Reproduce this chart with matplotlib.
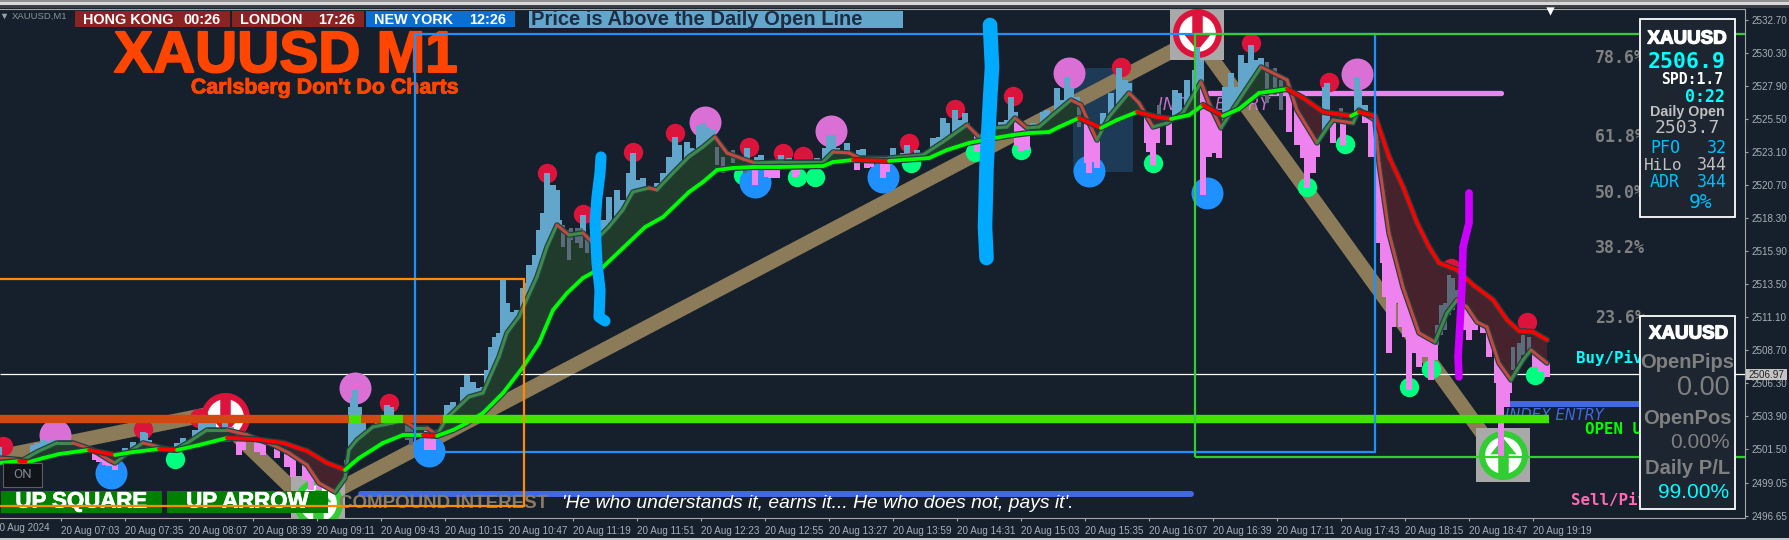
import numpy as np
import matplotlib
matplotlib.use("Agg")
import matplotlib.pyplot as plt
from matplotlib.collections import LineCollection
from matplotlib.patches import Rectangle
from matplotlib.path import Path
import matplotlib.patheffects as pe

# time axis: minutes after 06:30 on 20 Aug 2024; values: XAUUSD price
TICK_T = [33 + 32 * i for i in range(24)]
TICK_LABELS = ["20 Aug 07:03", "20 Aug 07:35", "20 Aug 08:07", "20 Aug 08:39", "20 Aug 09:11", "20 Aug 09:43",
               "20 Aug 10:15", "20 Aug 10:47", "20 Aug 11:19", "20 Aug 11:51", "20 Aug 12:23", "20 Aug 12:55",
               "20 Aug 13:27", "20 Aug 13:59", "20 Aug 14:31", "20 Aug 15:03", "20 Aug 15:35", "20 Aug 16:07",
               "20 Aug 16:39", "20 Aug 17:11", "20 Aug 17:43", "20 Aug 18:15", "20 Aug 18:47", "20 Aug 19:19"]
PRICE_TICKS = [2532.70, 2530.30, 2527.90, 2525.50, 2523.10, 2520.70, 2518.30, 2515.90, 2513.50,
               2511.10, 2508.70, 2506.30, 2503.90, 2501.50, 2499.05, 2496.65]

SLOW_T = [2, 12, 17, 24, 32, 47, 60, 69, 82, 91, 102, 116, 129, 144, 156, 166, 175, 179, 182, 194, 204, 214, 221, 229,
          236, 244, 254, 264, 272, 279, 286, 294, 304, 314, 325, 334, 347, 354, 361, 369, 379, 392, 414, 419, 429, 447,
          467, 476, 487, 497, 509, 517, 527, 532, 542, 553, 561, 571, 581, 588, 597, 604, 614, 622, 632, 646, 654, 664,
          678, 682, 690, 697, 704, 711, 717, 722, 731, 739, 749, 756, 762, 769, 776]
SLOW_P = [2500.48, 2500.62, 2500.55, 2500.84, 2501.13, 2501.43, 2501.06, 2501.28, 2501.50, 2501.43, 2501.79, 2502.30,
          2502.23, 2501.94, 2501.35, 2500.48, 2499.97, 2500.48, 2500.84, 2501.94, 2502.52, 2502.52, 2502.45, 2502.88,
          2503.39, 2504.12, 2505.57, 2507.46, 2509.21, 2511.61, 2512.84, 2513.94, 2514.74, 2516.12, 2517.64, 2518.37,
          2520.19, 2520.92, 2521.79, 2521.94, 2522.01, 2522.01, 2522.08, 2522.37, 2522.52, 2522.45, 2522.66, 2523.25,
          2523.76, 2524.05, 2524.34, 2524.48, 2524.55, 2524.92, 2525.57, 2524.85, 2525.43, 2526.01, 2525.65, 2525.50,
          2525.79, 2526.52, 2525.72, 2526.23, 2527.39, 2527.68, 2527.03, 2526.01, 2525.72, 2526.01, 2525.72, 2522.74,
          2520.55, 2517.94, 2516.19, 2515.03, 2514.52, 2513.43, 2512.34, 2510.88, 2510.08, 2510.01, 2509.43]

FAST_T = [2, 9, 14, 21, 31, 39, 49, 57, 60, 67, 74, 84, 90, 97, 106, 116, 126, 139, 147, 156, 162, 170, 175, 177, 181,
          189, 199, 204, 210, 216, 221, 226, 237, 244, 252, 256, 262, 271, 276, 281, 287, 294, 299, 307, 314, 319, 327,
          331, 339, 347, 354, 360, 366, 374, 380, 394, 414, 419, 427, 432, 447, 464, 474, 486, 492, 500, 506, 510, 516,
          522, 529, 538, 543, 547, 551, 557, 567, 572, 579, 586, 594, 603, 607, 613, 621, 633, 646, 651, 661, 666, 669,
          679, 682, 690, 692, 697, 704, 712, 720, 726, 731, 736, 741, 746, 752, 758, 764, 768, 776]
FAST_P = [2500.84, 2500.77, 2500.70, 2501.28, 2501.94, 2501.94, 2501.43, 2500.70, 2500.48, 2501.28, 2501.94, 2501.57,
          2501.43, 2502.01, 2502.88, 2502.88, 2502.52, 2501.79, 2501.21, 2500.34, 2499.03, 2498.37, 2499.39, 2501.43,
          2502.15, 2503.10, 2503.39, 2503.61, 2503.03, 2503.03, 2502.52, 2503.75, 2505.28, 2505.57, 2508.19, 2509.94,
          2511.10, 2514.01, 2516.19, 2517.79, 2517.06, 2517.21, 2516.48, 2517.64, 2518.88, 2520.19, 2520.48, 2520.34,
          2521.57, 2522.74, 2523.46, 2524.19, 2523.03, 2522.59, 2522.30, 2522.37, 2522.37, 2523.10, 2523.03, 2522.66,
          2522.66, 2522.88, 2523.83, 2525.06, 2524.19, 2524.85, 2524.92, 2525.57, 2524.85, 2524.92, 2525.79, 2526.88,
          2526.52, 2525.21, 2523.97, 2525.65, 2527.39, 2526.66, 2524.92, 2525.21, 2525.94, 2528.19, 2526.66, 2524.85,
          2526.66, 2529.28, 2528.34, 2526.15, 2523.76, 2524.85, 2525.43, 2525.21, 2526.15, 2525.43, 2522.30, 2517.21,
          2513.28, 2509.94, 2509.28, 2511.39, 2512.34, 2511.83, 2510.74, 2510.37, 2507.75, 2506.52, 2507.97, 2508.70,
          2507.75]

UP_T = [2, 19, 21, 24, 26, 29, 33, 65, 69, 74, 75, 77, 91, 94, 96, 100, 103, 106, 109, 115, 118, 176, 178, 179, 180, 182,
        184, 196, 198, 200, 224, 226, 229, 233, 234, 236, 238, 239, 242, 244, 246, 248, 250, 252, 254, 256, 259, 261,
        264, 266, 267, 270, 272, 274, 276, 279, 281, 282, 294, 304, 307, 311, 314, 317, 319, 321, 324, 327, 331, 334,
        337, 340, 342, 346, 348, 351, 352, 354, 356, 359, 376, 381, 383, 393, 397, 411, 415, 417, 419, 421, 426, 432,
        434, 449, 454, 456, 461, 469, 472, 474, 476, 480, 482, 485, 486, 503, 506, 508, 510, 519, 524, 526, 531, 534,
        536, 538, 541, 554, 558, 562, 565, 567, 590, 592, 596, 600, 601, 603, 615, 618, 621, 623, 626, 628, 631, 633,
        665, 666, 681, 682, 685]
UP_HIGH = [2501.64, 2501.79, 2501.94, 2502.15, 2502.01, 2502.15, 2502.01, 2501.57, 2502.01, 2502.73, 2502.66, 2502.15,
           2501.94, 2502.30, 2502.01, 2502.88, 2503.39, 2503.46, 2503.39, 2503.75, 2503.10, 2500.70, 2504.55, 2505.28,
           2505.79, 2504.55, 2503.39, 2504.70, 2504.55, 2503.46, 2503.82, 2504.70, 2504.92, 2504.70, 2506.01, 2506.88,
           2506.01, 2506.37, 2505.94, 2506.01, 2507.24, 2508.92, 2509.65, 2509.94, 2513.79, 2512.12, 2511.46, 2511.61,
           2513.21, 2513.57, 2514.88, 2515.61, 2517.43, 2518.66, 2521.57, 2520.70, 2520.34, 2518.16, 2518.52, 2518.16,
           2519.83, 2520.34, 2519.61, 2521.57, 2523.03, 2521.06, 2521.21, 2520.55, 2520.85, 2521.57, 2522.74, 2524.19,
           2523.61, 2523.83, 2523.39, 2523.24, 2525.06, 2525.21, 2524.92, 2524.70, 2523.39, 2522.74, 2522.88, 2522.88,
           2522.66, 2522.66, 2523.39, 2524.34, 2524.34, 2523.39, 2523.76, 2523.24, 2523.32, 2523.39, 2523.03, 2523.61,
           2523.24, 2524.12, 2524.19, 2525.57, 2525.21, 2526.15, 2525.43, 2525.94, 2525.21, 2525.28, 2525.43, 2527.10,
           2526.01, 2525.21, 2526.01, 2526.15, 2527.75, 2526.88, 2528.55, 2527.75, 2527.10, 2525.94, 2527.39, 2529.21,
           2528.34, 2528.12, 2527.61, 2527.39, 2528.34, 2529.06, 2530.74, 2529.79, 2527.83, 2528.85, 2527.83, 2530.15,
           2529.57, 2530.88, 2529.79, 2529.94, 2527.83, 2528.12, 2528.55, 2527.61, 2526.52]

DOWN_T = [50, 52, 55, 57, 60, 122, 124, 131, 134, 141, 146, 149, 155, 158, 162, 216, 219, 380, 386, 388, 391, 400, 401,
          431, 436, 438, 444, 446, 491, 511, 513, 515, 516, 546, 547, 549, 551, 576, 577, 579, 581, 587, 604, 607, 610,
          612, 647, 651, 654, 656, 659, 661, 669, 674, 685, 688, 691, 692, 694, 695, 697, 699, 701, 703, 705, 707, 710,
          712, 715, 718, 720, 735, 737, 740, 744, 747, 751, 752, 753, 756, 757, 770, 773, 776]
DOWN_LOW = [2500.70, 2500.55, 2500.34, 2500.26, 2499.97, 2501.06, 2501.43, 2501.28, 2501.06, 2500.84, 2500.19, 2499.46,
            2499.24, 2498.52, 2498.52, 2501.43, 2501.43, 2520.70, 2521.28, 2521.21, 2521.21, 2521.28, 2521.43, 2521.79,
            2521.94, 2522.01, 2521.21, 2521.65, 2523.10, 2523.61, 2523.17, 2523.24, 2523.24, 2522.30, 2521.57, 2522.37,
            2521.94, 2523.76, 2523.10, 2522.15, 2523.76, 2523.61, 2519.97, 2522.74, 2523.03, 2522.66, 2524.54, 2523.61,
            2522.66, 2520.48, 2521.57, 2522.74, 2523.76, 2523.61, 2525.21, 2522.74, 2520.12, 2516.48, 2515.03, 2512.55,
            2508.48, 2510.37, 2512.12, 2510.37, 2509.65, 2505.79, 2508.48, 2507.46, 2508.19, 2506.52, 2507.97, 2510.15,
            2509.43, 2510.15, 2509.94, 2508.19, 2506.30, 2503.82, 2500.92, 2504.55, 2505.57, 2507.46, 2507.10, 2506.74]

MID_T = [206, 208, 284, 287, 288, 291, 293, 296, 361, 364, 369, 375, 542, 582, 636, 640, 643, 673, 721, 723, 725, 727,
         729, 731, 759, 762, 764, 767]
MID_HIGH = [2503.61, 2503.24, 2517.79, 2517.43, 2517.57, 2517.57, 2517.57, 2516.92, 2523.46, 2522.74, 2523.24, 2522.15,
            2526.37, 2526.52, 2529.65, 2529.21, 2528.34, 2526.30, 2510.52, 2511.97, 2512.12, 2514.15, 2513.94, 2513.06,
            2508.92, 2509.21, 2509.79, 2509.64]
MID_LOW = [2502.15, 2501.79, 2516.19, 2515.25, 2516.70, 2516.48, 2516.12, 2515.75, 2522.15, 2521.57, 2522.30, 2521.57,
           2524.92, 2525.79, 2526.66, 2527.25, 2526.15, 2525.57, 2509.06, 2509.79, 2510.15, 2511.24, 2511.61, 2512.19,
           2507.25, 2507.61, 2508.33, 2508.70]

RED_T = [4, 74, 102, 197, 276, 294, 319, 340, 377, 394, 404, 457, 480, 509, 563, 628, 667, 728, 715, 766]
RED_P = [2501.72, 2502.95, 2503.75, 2504.84, 2521.57, 2518.59, 2523.10, 2524.48, 2523.46, 2523.03, 2522.81, 2523.76,
         2526.22, 2527.17, 2529.28, 2531.03, 2528.19, 2514.66, 2510.74, 2510.74]
GREEN_T = [90, 193, 287, 297, 328, 349, 374, 401, 410, 458, 490, 513, 579, 656, 675, 707, 718, 770]
GREEN_P = [2500.77, 2502.88, 2515.10, 2514.95, 2519.39, 2522.66, 2521.42, 2521.28, 2521.28, 2522.30, 2523.10, 2523.24,
           2522.30, 2520.55, 2523.68, 2506.01, 2507.32, 2506.88]
BLUE_T = [58, 217, 380, 444, 547, 606]
BLUE_P = [2499.75, 2501.35, 2520.92, 2521.28, 2521.72, 2520.12]
ORCHID_T = [30, 180, 355, 418, 537, 681]
ORCHID_P = [2502.52, 2505.93, 2525.28, 2524.63, 2528.85, 2528.77]

ZIGZAG_T = [-1, 109.5, 157, 601, 754]
ZIGZAG_P = [2500.84, 2504.11, 2497.43, 2531.39, 2500.55]

STROKE1_T = [303, 302.5, 301, 300, 301, 302.5, 302, 305]
STROKE1_P = [2522.74, 2521.57, 2519.83, 2517.94, 2515.03, 2513.06, 2511.10, 2510.81]
STROKE2_T = [497.5, 498.5, 497.5, 495.75, 495, 495.75]
STROKE2_P = [2532.34, 2529.28, 2526.88, 2522.01, 2517.65, 2515.39]
STROKE3_T = [737, 737, 734, 733.5, 732.5, 731.5, 732]
STROKE3_P = [2520.12, 2517.94, 2516.19, 2513.28, 2510.66, 2508.19, 2506.74]

BID = 2506.97
DAILY_OPEN = 2503.7
OPEN_BELOW_SPANS = [(2, 177), (183, 193), (204, 224)]
OPEN_ABOVE_SPANS = [(177, 183), (193, 204), (224, 777)]
FIB_LABELS = ["78.6%", "61.8%", "50.0%", "38.2%", "23.6%"]
FIB_PRICES = [2529.94, 2524.19, 2520.12, 2516.12, 2511.03]

BG = "#15202c"
X_MIN, X_MAX, Y_MIN, Y_MAX = 2.5, 875.0, 2496.48, 2533.50

fig = plt.figure(figsize=(17.9, 5.4), dpi=100, facecolor=BG)
ov = fig.add_axes([0, 0, 1, 1], zorder=5)
ov.set_xlim(0, 1790)
ov.set_ylim(540, 0)
ov.axis("off")
ov.patch.set_alpha(0)
ax = fig.add_axes([0, 22 / 540, 1745 / 1790, 509 / 540], zorder=1, facecolor=BG)
ax.set_xlim(X_MIN, X_MAX)
ax.set_ylim(Y_MIN, Y_MAX)
PX = ov.transData

ax.spines["left"].set_visible(False)
for s in ("top", "right", "bottom"):
    ax.spines[s].set_color("#a5a5a5")
    ax.spines[s].set_linewidth(0.8)
ax.yaxis.tick_right()
ax.set_xticks(TICK_T)
ax.set_xticklabels(TICK_LABELS, ha="left", family="Liberation Sans", fontsize=7.1, color="#a9b0b6")
ax.set_yticks(PRICE_TICKS)
ax.set_yticklabels([f"{v:.2f}" for v in PRICE_TICKS], family="Liberation Sans", fontsize=7.1, color="#a9b0b6")
ax.tick_params(axis="x", length=2.5, width=0.8, color="#a5a5a5", pad=3.5)
ax.tick_params(axis="y", length=2.5, width=0.8, color="#a5a5a5", pad=2.5)

# top window strip
ov.add_patch(Rectangle((0, 0), 1790, 2, color="#8f8f8f", lw=0))
ov.add_patch(Rectangle((0, 2), 1790, 3, color="#d8d8d8", lw=0))
ov.add_patch(Rectangle((0, 5), 1790, 3, color="#3a3f45", lw=0))
ov.add_patch(Rectangle((0, 538), 1790, 2, color="#c8c8c8", lw=0))

# background drawing objects
ax.add_patch(Rectangle((539, 2521.65), 30, 7.55, color="#1d3a57", lw=0, zorder=1))
ax.plot(ZIGZAG_T, ZIGZAG_P, color="#8c7b58", lw=10.5, solid_joinstyle="miter", solid_capstyle="butt", zorder=1.5)
ax.plot([607, 753], [2527.4, 2527.4], color="#ee82ee", lw=3.8, solid_capstyle="round", zorder=1.6)
ax.hlines(BID, X_MIN, X_MAX, color="#ffffff", lw=0.9, zorder=1.7)
ax.text(1158, 105, "INDEX ENTRY", transform=PX, color="#ee82ee", style="italic", family="DejaVu Sans", fontsize=12,
        va="center", alpha=0.8, zorder=1.7)
ax.text(1505, 416, "INDEX ENTRY", transform=PX, color="#4169e1", style="italic", family="DejaVu Sans", fontsize=10.5,
        va="center", zorder=1.7)
ax.plot([183, 598], [2498.2, 2498.2], color="#4169e1", lw=4.3, solid_capstyle="round", zorder=2)
ax.plot([757.5, 825], [2504.75, 2504.75], color="#4169e1", lw=4.3, solid_capstyle="butt", zorder=2)

# icons: grey tile, ring, disc, arrow
ARROW_UP = Path([(-.22, -1), (.22, -1), (.22, .05), (.55, .05), (0, .72), (-.55, .05), (-.22, .05), (-.22, -1)], closed=True)
ARROW_DN = Path([(-x, -y) for x, y in ARROW_UP.vertices], closed=True)
for t, p, col, tile, arrow in [(754, 2501.06, "#32cd32", True, ARROW_UP), (601, 2531.75, "#dc143c", True, ARROW_DN),
                               (115, 2503.82, "#dc143c", False, ARROW_DN), (161.5, 2497.57, "#32cd32", True, ARROW_UP)]:
    if tile:
        ax.scatter([t], [p], marker="s", s=1568, color="#a9a9a9", lw=0, zorder=2.5)
    ax.scatter([t], [p], marker="o", s=1245, color=col, lw=0, zorder=2.6)
    ax.scatter([t], [p], marker="o", s=700, color="#ffffff", lw=0, zorder=2.7)
    ax.scatter([t], [p], marker=arrow, s=1180, color=col, lw=0, zorder=2.8)

# swing dots
ax.scatter(RED_T, RED_P, s=195, color="#dc143c", lw=0, zorder=3)
ax.scatter(GREEN_T, GREEN_P, s=195, color="#00ff7f", lw=0, zorder=3)
ax.scatter(BLUE_T, BLUE_P, s=530, color="#1e90ff", lw=0, zorder=3)
ax.scatter(ORCHID_T, ORCHID_P, s=530, color="#da70d6", lw=0, zorder=3)

# cloud between moving averages
grid = np.arange(SLOW_T[0], SLOW_T[-1] + 0.5, 0.5)
fast_g = np.interp(grid, FAST_T, FAST_P)
slow_g = np.interp(grid, SLOW_T, SLOW_P)
ax.fill_between(grid, fast_g, slow_g, where=fast_g >= slow_g, color="#203a2b", lw=0, zorder=3.5, interpolate=True)
ax.fill_between(grid, fast_g, slow_g, where=fast_g <= slow_g, color="#45222c", lw=0, zorder=3.5, interpolate=True)

# price bars
up_low = np.interp(UP_T, FAST_T, FAST_P)
down_high = np.interp(DOWN_T, FAST_T, FAST_P)
ax.bar(UP_T, np.array(UP_HIGH) - up_low, bottom=up_low, width=2.6, color="#62a7cb", lw=0, zorder=4, antialiased=False)
ax.bar(DOWN_T, np.array(DOWN_LOW) - down_high, bottom=down_high, width=2.6, color="#ee82ee", lw=0, zorder=4,
       antialiased=False)
ax.bar(MID_T, np.array(MID_HIGH) - np.array(MID_LOW), bottom=MID_LOW, width=2.4, color="#5c6b79", lw=0, zorder=4,
       antialiased=False)


def coloured(ts, ps, up, down, lw, z):
    ax.plot(ts, ps, color="#24403f", lw=lw + 1.8, solid_capstyle="round", zorder=z - 0.1)
    pts = np.column_stack([ts, ps])
    segs = np.stack([pts[:-1], pts[1:]], axis=1)
    cols = [up if b >= a else down for a, b in zip(ps[:-1], ps[1:])]
    ax.add_collection(LineCollection(segs, colors=cols, linewidths=lw, zorder=z, capstyle="round"))


coloured(FAST_T, FAST_P, "#3d8a4b", "#c4483f", 2.2, 5)
coloured(SLOW_T, SLOW_P, "#00ff00", "#ff0000", 2.7, 5.2)

# daily open band, rectangles
for a, b in OPEN_BELOW_SPANS:
    ax.plot([a, b], [DAILY_OPEN, DAILY_OPEN], color="#d3480f", lw=6, solid_capstyle="butt", zorder=9)
for a, b in OPEN_ABOVE_SPANS:
    ax.plot([a, b], [DAILY_OPEN, DAILY_OPEN], color="#3fe400", lw=6, solid_capstyle="butt", zorder=9)
ax.add_patch(Rectangle((210, 2501.28), 480, 30.42, fill=False, ec="#1e90ff", lw=1.6, zorder=9))
ax.add_patch(Rectangle((600, 2500.94), 400, 30.76, fill=False, ec="#32cd32", lw=1.6, zorder=9))
ax.add_patch(Rectangle((-20, 2497.37), 284.5, 16.49, fill=False, ec="#ff8c00", lw=1.6, zorder=9))

# hand-drawn strokes
ax.plot(STROKE1_T, STROKE1_P, color="#00aaff", lw=8.0, solid_capstyle="round", solid_joinstyle="round", zorder=10)
ax.plot(STROKE2_T, STROKE2_P, color="#00aaff", lw=10.5, solid_capstyle="round", solid_joinstyle="round", zorder=10)
ax.plot(STROKE3_T, STROKE3_P, color="#cc00ff", lw=5.5, solid_capstyle="round", solid_joinstyle="round", zorder=10)

# fibonacci and level labels
for lab, p in zip(FIB_LABELS, FIB_PRICES):
    ax.text(800, p, lab, color="#808080", family="DejaVu Sans Mono", fontweight="bold", fontsize=12, va="center", zorder=6)
ax.text(1576, 358, "Buy/Pivot", transform=PX, color="#00ffff", family="DejaVu Sans Mono", fontweight="bold",
        fontsize=11.3, va="center", zorder=6, clip_on=False)
ax.text(1585, 429, "OPEN UP", transform=PX, color="#00ff00", family="DejaVu Sans Mono", fontweight="bold",
        fontsize=11.3, va="center", zorder=6)
ax.text(1571, 500, "Sell/Pivot", transform=PX, color="#ff69b4", family="DejaVu Sans Mono", fontweight="bold",
        fontsize=11.3, va="center", zorder=6)

# title (below the rectangles)
title = ax.text(286, 57, "XAUUSD M1", transform=PX, color="#ff4500", family="Liberation Sans", fontweight="bold",
                fontsize=42, ha="center", va="center", zorder=7)
title.set_path_effects([pe.withStroke(linewidth=1.4, foreground="#ff4500"),
                        pe.SimpleLineShadow(offset=(1, -1), shadow_color="#000000", alpha=0.9), pe.Normal()])
sub = ax.text(325, 88, "Carlsberg Don't Do Charts", transform=PX, color="#ff4500", family="Liberation Sans",
              fontweight="bold", fontsize=15.4, ha="center", va="center", zorder=7)
sub.set_path_effects([pe.withStroke(linewidth=0.6, foreground="#ff4500"), pe.Normal()])

# buttons
for x0, x1, lab in [(1, 162, "UP SQUARE"), (167, 328, "UP ARROW")]:
    ax.add_patch(Rectangle((x0, 491), x1 - x0, 22, transform=PX, color="#008000", lw=0, zorder=8))
    btn = ax.text((x0 + x1) / 2, 502, lab, transform=PX, color="#ffffff", family="Liberation Sans", fontweight="bold",
                  fontsize=16, ha="center", va="center", zorder=8.5)
    btn.set_path_effects([pe.withStroke(linewidth=0.6, foreground="#ffffff")])
ax.add_patch(Rectangle((3, 463), 39, 24, transform=PX, fc="#111418", ec="#5a5f66", lw=0.8, zorder=8))
ax.text(22.5, 475, "ON", transform=PX, color="#80858c", family="Roboto", fontsize=9.5, ha="center", va="center", zorder=8.5)
ax.text(339, 503, "COMPOUND INTEREST", transform=PX, color="#8c7b62", family="Liberation Sans", fontweight="bold",
        fontsize=13.5, va="center", zorder=8)
ax.text(562, 503, "'He who understands it, earns it... He who does not, pays it'.", transform=PX, color="#ffffff",
        family="Liberation Sans", style="italic", fontsize=13.9, va="center", zorder=8)

# header
ov.text(12, 16, "XAUUSD,M1", color="#8b9198", family="Liberation Sans", fontsize=6.8, va="center")
ov.scatter([4], [16], marker="v", s=16, color="#9aa0a6", lw=0)
ov.scatter([1550], [11], marker="v", s=36, color="#ffffff", lw=0)
for x0, x1, col, a, b in [(75, 230, "#8b2323", "HONG KONG", "00:26"), (232, 364, "#8b2323", "LONDON", "17:26"),
                          (366, 515, "#0a6fd1", "NEW YORK", "12:26")]:
    ov.add_patch(Rectangle((x0, 11), x1 - x0, 16, color=col, lw=0))
    ov.text(x0 + 8, 19.5, a, color="#ffffff", family="Liberation Sans", fontweight="bold", fontsize=10.4, va="center")
    ov.text(x1 - 9, 19.5, b, color="#ffffff", family="Liberation Sans", fontweight="bold", fontsize=10.4, va="center", ha="right")
ov.add_patch(Rectangle((529, 11), 374, 17, color="#62a7cb", lw=0))
ov.text(531, 19.5, "Price is Above the Daily Open Line", color="#1d2d45", family="Liberation Sans", fontweight="bold",
        fontsize=14.5, va="center")

# price tag
ov.add_patch(Rectangle((1746, 369), 41, 11, color="#c4c4c4", lw=0))
ov.text(1766.5, 374.5, f"{BID:.2f}", color="#222222", family="Liberation Sans", fontsize=7.1, ha="center", va="center")
ov.text(-6, 528, "20 Aug 2024", color="#a9b0b6", family="Liberation Sans", fontsize=7.1, va="center", clip_on=True)

# info panels
MONO = "DejaVu Sans Mono"
SANS = "Liberation Sans"
ov.add_patch(Rectangle((1640, 19), 95, 198, fc="#1c2530", ec="#ffffff", lw=1.3))
ov.add_patch(Rectangle((1640, 316), 95, 193, fc="#1c2530", ec="#ffffff", lw=1.3))


def pt(x, y, s, col, fam=MONO, size=12, weight="normal", ha="center"):
    return ov.text(x, y, s, color=col, family=fam, fontsize=size, fontweight=weight, ha=ha, va="center")


sym1 = pt(1687, 39, "XAUUSD", "#ffffff", SANS, 13.5, "bold")
sym1.set_path_effects([pe.withStroke(linewidth=1.0, foreground="#ffffff")])
pt(1687, 62, "2506.9", "#00ffff", MONO, 15.5, "bold")
pt(1723, 80, "SPD:1.7", "#ffffff", MONO, 10.6, "bold", "right")
pt(1725, 97, "0:22", "#00ffff", MONO, 12, "bold", "right")
pt(1687.5, 112, "Daily Open", "#c0c0c0", SANS, 10.3, "bold")
pt(1687, 128, "2503.7", "#c0c0c0", MONO, 13)
pt(1650, 148, "PFO", "#00bfff", MONO, 12, ha="left")
pt(1727, 148, "32", "#00bfff", MONO, 12, ha="right")
pt(1644, 165, "HiLo", "#c0c0c0", MONO, 11.5, ha="left")
pt(1727, 165, "344", "#c0c0c0", MONO, 12, ha="right")
pt(1650, 182, "ADR", "#00bfff", MONO, 12, ha="left")
pt(1727, 182, "344", "#00bfff", MONO, 12, ha="right")
pt(1701, 202, "9%", "#00bfff", MONO, 14)

sym2 = pt(1688.5, 334, "XAUUSD", "#ffffff", SANS, 13.5, "bold")
sym2.set_path_effects([pe.withStroke(linewidth=1.0, foreground="#ffffff")])
pt(1687.5, 363, "OpenPips", "#808080", SANS, 14.5, "bold")
pt(1729.5, 388, "0.00", "#808080", SANS, 19.5, ha="right")
pt(1687.5, 418, "OpenPos", "#808080", SANS, 14.5, "bold")
pt(1729.5, 442, "0.00%", "#808080", SANS, 15, ha="right")
pt(1687.5, 468, "Daily P/L", "#808080", SANS, 14.5, "bold")
pt(1729.5, 492, "99.00%", "#00ffff", SANS, 15, ha="right")

fig.savefig("out.png", dpi=100, facecolor=BG)
